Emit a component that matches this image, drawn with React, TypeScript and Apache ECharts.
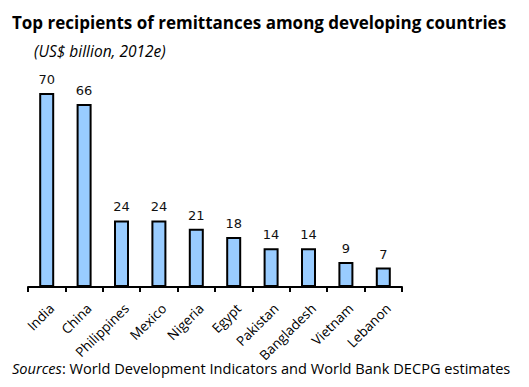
import React, { useEffect, useRef } from "react";
import * as echarts from "echarts";

const categories = ["India", "China", "Philippines", "Mexico", "Nigeria", "Egypt", "Pakistan", "Bangladesh", "Vietnam", "Lebanon"];
const values = [70, 66, 24, 24, 21, 18, 14, 14, 9, 7];

const titleText = "Top recipients of remittances among developing countries";
const subtitleText = "(US$ billion, 2012e)";

export default function App() {
  const ref = useRef<HTMLDivElement>(null);
  useEffect(() => {
    if (!ref.current) return;
    const chart = echarts.init(ref.current, null, { renderer: "svg" });
    chart.setOption({
      animation: false,
      backgroundColor: "#fff",
      title: [
        {
          text: titleText,
          left: 7,
          top: 9,
          textStyle: { fontFamily: "Open Sans", fontWeight: "bold", fontSize: 17, color: "#000" },
        },
        {
          text: subtitleText,
          left: 29,
          top: 38,
          textStyle: { fontFamily: "Open Sans", fontStyle: "italic", fontWeight: "normal", fontSize: 15.5, color: "#000" },
        },
        {
          text: "{i|Sources}{n|: World Development Indicators and World Bank DECPG estimates}",
          left: 7,
          top: 355,
          textStyle: {
            fontWeight: "normal",
            rich: {
              i: { fontFamily: "Open Sans", fontStyle: "italic", fontWeight: "normal", fontSize: 14.6, color: "#000" },
              n: { fontFamily: "Open Sans", fontWeight: "normal", fontSize: 14.6, color: "#000" },
            },
          },
        },
      ],
      grid: { left: 28, right: 127, top: 93, bottom: 100, containLabel: false },
      xAxis: {
        type: "category",
        data: categories,
        boundaryGap: true,
        axisLine: { lineStyle: { color: "#000", width: 2 } },
        axisTick: { show: true, length: 5, lineStyle: { color: "#000", width: 2 } },
        axisLabel: {
          rotate: 45,
          interval: 0,
          margin: 14,
          verticalAlign: "top",
          fontFamily: "Open Sans",
          fontSize: 13.5,
          color: "#000",
        },
      },
      yAxis: { type: "value", min: 0, max: 70, show: false, splitLine: { show: false } },
      series: [
        {
          type: "bar",
          data: values,
          barWidth: 15,
          itemStyle: { color: "#99CCFF", borderColor: "#000", borderWidth: 2 },
          label: {
            show: true,
            position: "top",
            distance: 7,
            fontFamily: "DejaVu Sans",
            fontWeight: "normal",
            fontSize: 13,
            color: "#111",
          },
        },
      ],
    });
    return () => chart.dispose();
  }, []);
  return <div ref={ref} style={{ width: 529, height: 387, margin: -8 }} />;
}
